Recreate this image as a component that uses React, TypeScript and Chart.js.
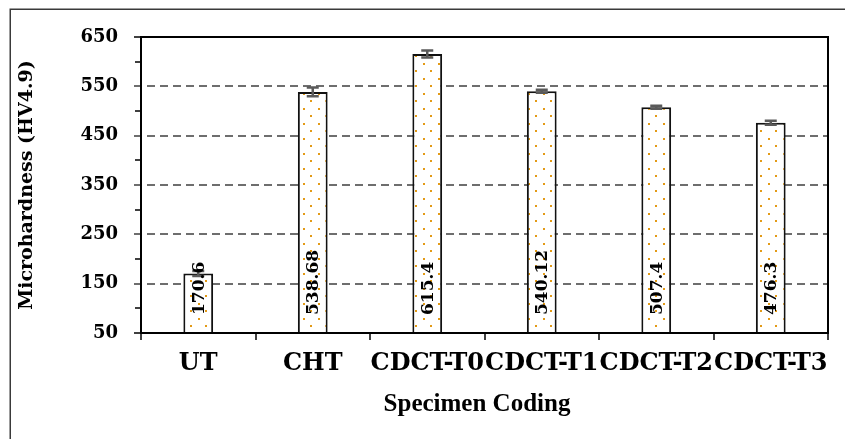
import React, { useEffect, useRef } from "react";
import { Chart, registerables } from "chart.js";
Chart.register(...registerables);

const categories = ["UT", "CHT", "CDCT-T0", "CDCT-T1", "CDCT-T2", "CDCT-T3"];
const hardness = [170.6, 538.68, 615.4, 540.12, 507.4, 476.3];
const errors = [5, 9, 7, 3, 3, 4];
const valueLabels = ["170.6", "538.68", "615.4", "540.12", "507.4", "476.3"];
const yTicks = [50, 150, 250, 350, 450, 550, 650];
const yMinorTicks = [100, 200, 300, 400, 500, 600];
const yTitle = "Microhardness (HV4.9)";
const xTitle = "Specimen Coding";

const FONT = "'DejaVu Serif', serif";
const FONT2 = "'Liberation Serif', serif";

export default function App() {
  const ref = useRef<HTMLCanvasElement>(null);
  useEffect(() => {
    const canvas = ref.current!;
    const ctx = canvas.getContext("2d")!;
    const tile = document.createElement("canvas");
    tile.width = 15;
    tile.height = 15;
    const t = tile.getContext("2d")!;
    t.fillStyle = "#ffffff";
    t.fillRect(0, 0, 15, 15);
    t.fillStyle = "#e39a16";
    t.fillRect(3, 3, 2, 2);
    t.fillRect(10, 10, 2, 2);
    const pattern = ctx.createPattern(tile, "repeat");

    const decor = {
      id: "decor",
      beforeDraw(chart: any) {
        const c = chart.ctx;
        c.save();
        c.strokeStyle = "#3a3a3a";
        c.lineWidth = 1.5;
        c.strokeRect(10.25, 9.25, 1000, 1000);
        c.restore();
      },
      beforeDatasetsDraw(chart: any) {
        const c = chart.ctx;
        const y = chart.scales.y;
        const a = chart.chartArea;
        c.save();
        c.strokeStyle = "#6e6e6e";
        c.lineWidth = 2;
        c.setLineDash([8, 5]);
        yTicks.forEach((v) => {
          if (v === yTicks[0] || v === yTicks[yTicks.length - 1]) return;
          const py = Math.round(y.getPixelForValue(v));
          c.beginPath();
          c.moveTo(134, py);
          c.lineTo(a.right, py);
          c.stroke();
        });
        c.restore();
      },
      afterDatasetsDraw(chart: any) {
        const c = chart.ctx;
        const y = chart.scales.y;
        const a = chart.chartArea;
        const meta = chart.getDatasetMeta(0);
        c.save();
        // error bars
        c.strokeStyle = "#5a5a5a";
        c.lineWidth = 2.5;
        meta.data.forEach((bar: any, i: number) => {
          const px = bar.x;
          const top = y.getPixelForValue(hardness[i] + errors[i]);
          const bot = y.getPixelForValue(hardness[i] - errors[i]);
          c.beginPath();
          c.moveTo(px, top);
          c.lineTo(px, bot);
          c.moveTo(px - 6, top);
          c.lineTo(px + 6, top);
          c.moveTo(px - 6, bot);
          c.lineTo(px + 6, bot);
          c.stroke();
        });
        // plot border
        c.strokeStyle = "#000";
        c.lineWidth = 2;
        c.strokeRect(a.left, a.top, a.right - a.left, a.bottom - a.top);
        // y ticks
        c.lineWidth = 1.5;
        yTicks.forEach((v) => {
          const py = Math.round(y.getPixelForValue(v));
          if (v !== yTicks[0] && v !== yTicks[yTicks.length - 1]) return;
          c.beginPath();
          c.moveTo(134, py);
          c.lineTo(a.left, py);
          c.stroke();
        });
        yMinorTicks.forEach((v) => {
          const py = Math.round(y.getPixelForValue(v));
          c.beginPath();
          c.moveTo(135, py);
          c.lineTo(a.left, py);
          c.stroke();
        });
        // x ticks at category boundaries
        const n = categories.length;
        const step = (a.right - a.left) / n;
        for (let k = 0; k <= n; k++) {
          const px = Math.round(a.left + step * k);
          c.beginPath();
          c.moveTo(px, a.bottom);
          c.lineTo(px, a.bottom + 7);
          c.stroke();
        }
        // value labels
        c.fillStyle = "#000";
        c.font = "bold 17px " + FONT;
        c.textAlign = "left";
        c.textBaseline = "middle";
        const base = y.getPixelForValue(yTicks[0]);
        meta.data.forEach((bar: any, i: number) => {
          c.save();
          c.translate(bar.x + 1, base - 18);
          c.rotate(-Math.PI / 2);
          c.fillText(valueLabels[i], 0, 0);
          c.restore();
        });
        // x axis title
        c.font = "bold 25px " + FONT2;
        c.textAlign = "center";
        c.textBaseline = "alphabetic";
        c.fillText(xTitle, 477, 411);
        c.restore();
      },
    };

    const chart = new Chart(canvas, {
      type: "bar",
      data: {
        labels: categories,
        datasets: [
          {
            data: hardness,
            backgroundColor: pattern as any,
            borderColor: "#111",
            borderWidth: 2,
            barPercentage: 0.26,
            categoryPercentage: 1,
          },
        ],
      },
      options: {
        responsive: false,
        animation: false,
        devicePixelRatio: 1,
        layout: { padding: { left: 0, top: 37, right: 17, bottom: 0 } },
        plugins: { legend: { display: false }, tooltip: { enabled: false } },
        scales: {
          x: {
            grid: { display: false, drawTicks: false },
            border: { display: false },
            ticks: {
              font: { family: FONT, size: 24, weight: "bold" },
              color: "#000",
              padding: 16,
              maxRotation: 0,
              minRotation: 0,
              autoSkip: false,
            },
            title: { display: false },
            afterFit(s: any) {
              s.height = 106;
            },
          },
          y: {
            min: 50,
            max: 650,
            grid: { display: false, drawTicks: false },
            border: { display: false },
            ticks: {
              stepSize: 100,
              font: { family: FONT, size: 18, weight: "bold" },
              color: "#000",
              padding: 23,
            },
            afterBuildTicks(s: any) {
              s.ticks = yTicks.map((v) => ({ value: v }));
            },
            title: {
              display: true,
              text: yTitle,
              font: { family: FONT, size: 19, weight: "bold" },
              color: "#000",
              padding: { top: 16, bottom: 0 },
            },
            afterFit(s: any) {
              s.width = 141;
            },
          },
        },
      },
      plugins: [decor],
    });
    return () => chart.destroy();
  }, []);
  return (
    <canvas
      ref={ref}
      width={845}
      height={439}
      style={{ position: "absolute", left: 0, top: 0, width: 845, height: 439 }}
    />
  );
}
